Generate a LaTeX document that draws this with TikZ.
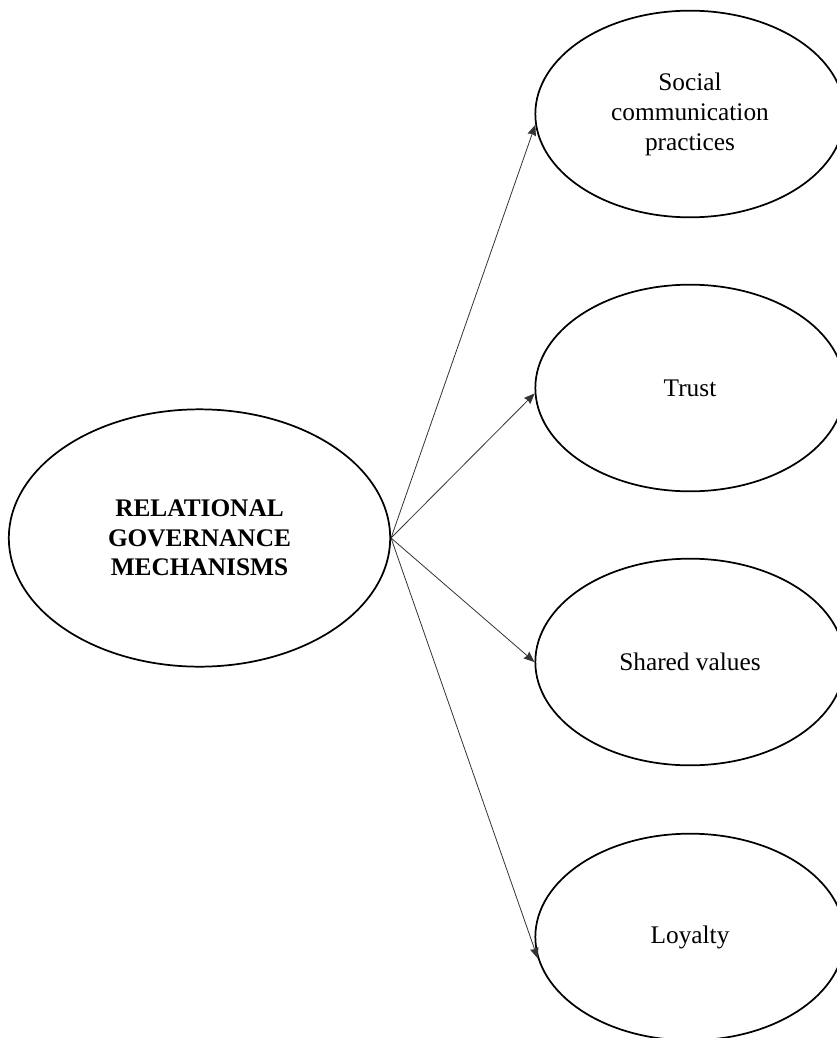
\documentclass[tikz,border=0pt]{standalone}
\usepackage{fontspec}
\setmainfont{Liberation Serif}
\usetikzlibrary{arrows.meta,shapes.geometric,positioning}
\tikzset{
>={Stealth[length=8pt,width=6.5pt,inset=0.8pt]},
  mainoval/.style={
    ellipse,
    draw=black, line width=1.3pt,
    minimum width=286pt,
    minimum height=193pt,
    font=\fontsize{19}{22}\selectfont\bfseries,
    align=center},
  subfactor/.style={
    ellipse,
    draw=black, line width=1.3pt,
    minimum width=232pt,
    minimum height=155pt,
    font=\fontsize{19}{22.5}\selectfont,
    align=center},
  line/.style={draw, line width=0.6pt, black!80, ->},
}
\begin{document}
\begin{tikzpicture}[x=0.75pt,y=-0.75pt]
  \useasboundingbox (0,0) rectangle (836,1038);

  \node[mainoval] (rgm) at (199.5,538) {RELATIONAL\\GOVERNANCE\\MECHANISMS};

  \node[subfactor] (social) at (690,114) {Social\\communication\\practices};
  \node[subfactor] (trust)  at (690,388) {Trust};
  \node[subfactor] (shared) at (690,662) {Shared values};
  \node[subfactor] (loyal)  at (690,937) {Loyalty};

  \path[line] (rgm.east) -- (social.184);
  \path[line] (rgm.east) -- (trust.182);
  \path[line] (rgm.east) -- (shared.west);
  \path[line] (rgm.east) -- (loyal.188);
\end{tikzpicture}
\end{document}
